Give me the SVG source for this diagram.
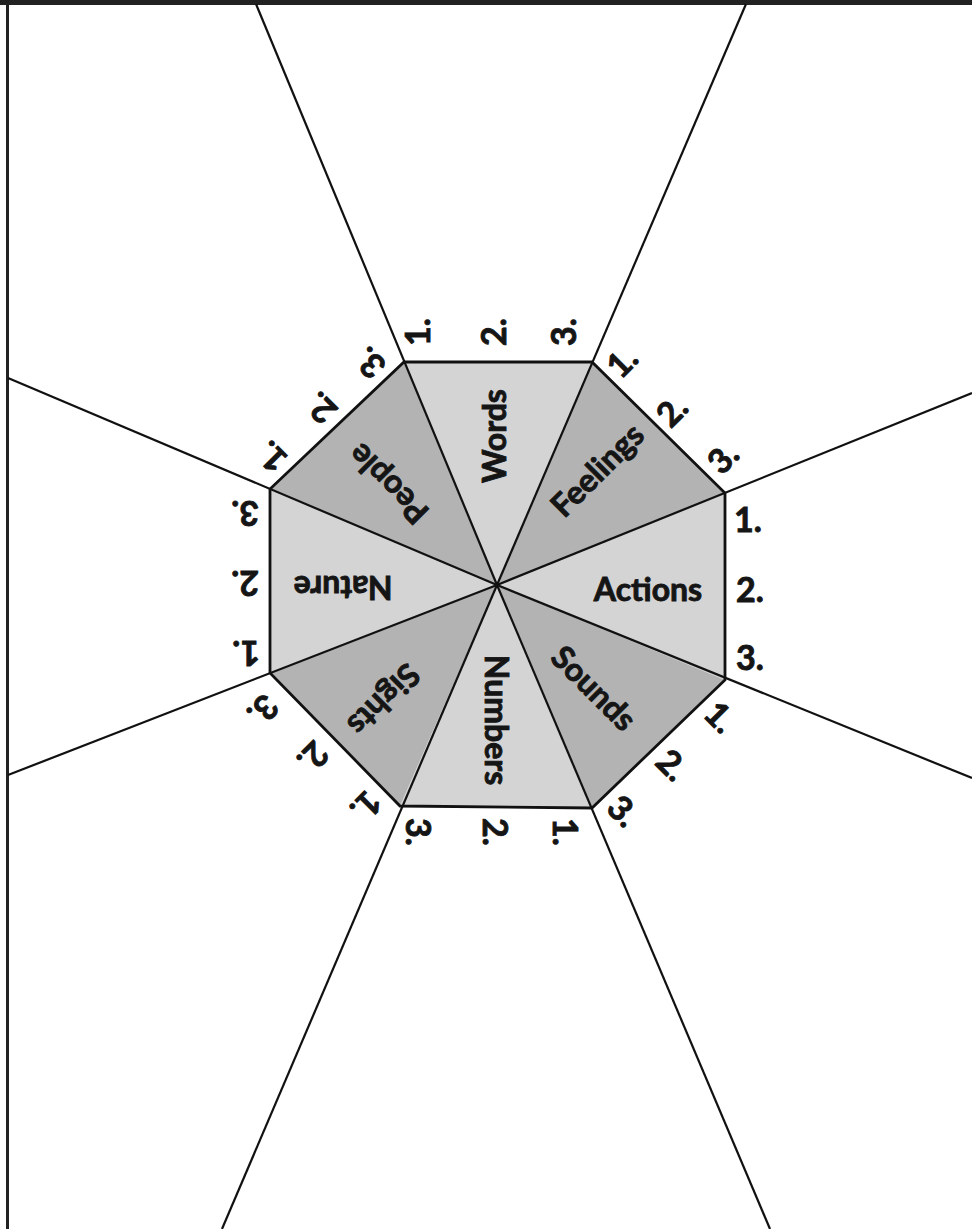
<svg xmlns="http://www.w3.org/2000/svg" width="972" height="1229" viewBox="0 0 972 1229">
<style>
.light{fill:#d4d4d4}
.dark{fill:#b3b3b3}
.edge{fill:none;stroke:#111;stroke-width:2.8;stroke-linejoin:miter}
.ray{stroke:#111;stroke-width:2.2;fill:none}
.name{font-family:Lato,"Liberation Sans",sans-serif;font-weight:700;font-size:32px;fill:#151515;stroke:#151515;stroke-width:0.9;text-anchor:middle}
.num{font-family:Lato,"Liberation Sans",sans-serif;font-weight:700;font-size:34px;fill:#151515;stroke:#151515;stroke-width:0.9;text-anchor:middle}
</style>
<rect x="0" y="0" width="972" height="1229" fill="#fff"/>
<rect x="0" y="0" width="972" height="5" fill="#222"/>
<rect x="6" y="0" width="3" height="1229" fill="#222"/>

<g id="words">
<polygon class="light" points="497,585 404,362 592,362"/>
<text class="name" transform="translate(494,436) rotate(-90)" y="11.5">Words</text>
<text class="num" transform="translate(418,332) rotate(-90)" y="12">1.</text>
<text class="num" transform="translate(494,332) rotate(-90)" y="12">2.</text>
<text class="num" transform="translate(564,332) rotate(-90)" y="12">3.</text>
</g>
<g id="feelings">
<polygon class="dark" points="497,585 592,362 725,493"/>
<text class="name" transform="translate(597,470) rotate(-45)" y="11.5">Feelings</text>
<text class="num" transform="translate(622,362) rotate(-45)" y="12">1.</text>
<text class="num" transform="translate(672,411) rotate(-45)" y="12">2.</text>
<text class="num" transform="translate(723,458) rotate(-45)" y="12">3.</text>
</g>
<g id="actions">
<polygon class="light" points="497,585 725,493 725,680"/>
<text class="name" transform="translate(648,589)" y="11.5">Actions</text>
<text class="num" transform="translate(748,520)" y="12">1.</text>
<text class="num" transform="translate(750,590)" y="12">2.</text>
<text class="num" transform="translate(750,658)" y="12">3.</text>
</g>
<g id="sounds">
<polygon class="dark" points="497,585 725,680 592,808"/>
<text class="name" transform="translate(594,688) rotate(45)" y="11.5">Sounds</text>
<text class="num" transform="translate(720,717) rotate(45)" y="12">1.</text>
<text class="num" transform="translate(672,765) rotate(45)" y="12">2.</text>
<text class="num" transform="translate(623,811) rotate(45)" y="12">3.</text>
</g>
<g id="numbers">
<polygon class="light" points="497,585 592,808 400,806"/>
<text class="name" transform="translate(496,720) rotate(90)" y="11.5">Numbers</text>
<text class="num" transform="translate(565,832) rotate(90)" y="12">1.</text>
<text class="num" transform="translate(495,832) rotate(90)" y="12">2.</text>
<text class="num" transform="translate(418,832) rotate(90)" y="12">3.</text>
</g>
<g id="sights">
<polygon class="dark" points="497,585 400,806 270,673"/>
<text class="name" transform="translate(384,700) rotate(135)" y="11.5">Sights</text>
<text class="num" transform="translate(366,806) rotate(135)" y="12">1.</text>
<text class="num" transform="translate(313,757) rotate(135)" y="12">2.</text>
<text class="num" transform="translate(263,710) rotate(135)" y="12">3.</text>
</g>
<g id="nature">
<polygon class="light" points="497,585 270,673 270,489"/>
<text class="name" transform="translate(343,587) rotate(180)" y="11.5">Nature</text>
<text class="num" transform="translate(246,653) rotate(180)" y="12">1.</text>
<text class="num" transform="translate(245,583) rotate(180)" y="12">2.</text>
<text class="num" transform="translate(245,513) rotate(180)" y="12">3.</text>
</g>
<g id="people">
<polygon class="dark" points="497,585 270,489 404,362"/>
<text class="name" transform="translate(388,484) rotate(-135)" y="11.5">People</text>
<text class="num" transform="translate(272,457) rotate(-135)" y="12">1.</text>
<text class="num" transform="translate(321,408) rotate(-135)" y="12">2.</text>
<text class="num" transform="translate(370,363) rotate(-135)" y="12">3.</text>
</g>

<g id="connectors">
<polygon class="edge" points="404,362 592,362 725,493 725,680 592,808 400,806 270,673 270,489"/>
<line class="ray" x1="497" y1="585" x2="256" y2="4"/>
<line class="ray" x1="497" y1="585" x2="746" y2="4"/>
<line class="ray" x1="497" y1="585" x2="972" y2="393"/>
<line class="ray" x1="497" y1="585" x2="972" y2="778"/>
<line class="ray" x1="497" y1="585" x2="770" y2="1229"/>
<line class="ray" x1="497" y1="585" x2="222" y2="1229"/>
<line class="ray" x1="497" y1="585" x2="8" y2="775"/>
<line class="ray" x1="497" y1="585" x2="8" y2="378"/>
</g>
</svg>
